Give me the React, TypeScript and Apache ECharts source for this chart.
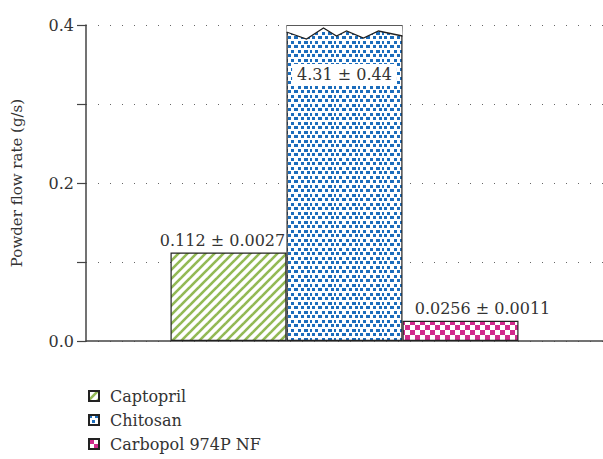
import React, { useEffect, useRef } from "react";
import * as echarts from "echarts";

const categories = [""];
const seriesNames = ["Captopril", "Chitosan", "Carbopol 974P NF"];
const seriesValues = [0.112, 0.4, 0.0256];
const seriesLabels = ["0.112 ± 0.0027", "4.31 ± 0.44", "0.0256 ± 0.0011"];
const yTicks = [0, 0.1, 0.2, 0.3, 0.4];

const FONT = "DejaVu Serif";
const BAR_W = 116;

function makeTile(w: number, h: number, draw: (ctx: CanvasRenderingContext2D) => void) {
  const c = document.createElement("canvas");
  c.width = w;
  c.height = h;
  const ctx = c.getContext("2d")!;
  ctx.fillStyle = "#ffffff";
  ctx.fillRect(0, 0, w, h);
  draw(ctx);
  return { image: c.toDataURL(), repeat: "repeat", imageWidth: w, imageHeight: h } as any;
}

export default function App() {
  const ref = useRef<HTMLDivElement>(null);
  useEffect(() => {
    document.body.style.margin = "0";
    if (!ref.current) return;
    const chart = echarts.init(ref.current, null, { renderer: "svg" });

    const stripes = makeTile(9, 9, (ctx) => {
      ctx.strokeStyle = "#93b955";
      ctx.lineWidth = 2.6;
      for (const o of [-9, 0, 9]) {
        ctx.beginPath();
        ctx.moveTo(o - 1, 10);
        ctx.lineTo(o + 10, -1);
        ctx.stroke();
      }
    });
    const bluePat = makeTile(24, 9, (ctx) => {
      ctx.fillStyle = "#1c6dbc";
      const cells = [
        [0, 0, 3, 3], [6, 0, 4, 3], [13, 0, 3, 3], [19, 0, 3, 3],
        [3, 4.5, 3, 3], [10, 4.5, 3, 3], [16, 4.5, 4, 3], [22, 4.5, 2, 3],
      ];
      for (const [x, y, w, h] of cells) ctx.fillRect(x, Math.round(y), w, h);
    });
    const checker = makeTile(10, 10, (ctx) => {
      ctx.fillStyle = "#d02a8c";
      ctx.fillRect(0, 0, 5, 5);
      ctx.fillRect(5, 5, 5, 5);
    });
    const patterns = [stripes, bluePat, checker];

    const labelOpts = [
      { position: "top", distance: 4, offset: [-6, 0] },
      {
        position: "insideTop",
        distance: 0,
        offset: [0, 39],
        backgroundColor: "#ffffff",
        padding: [2, 5],
      },
      { position: "top", distance: 4, offset: [22, 0] },
    ];

    const series = seriesNames.map((name, i) => ({
      name,
      type: "bar",
      barWidth: BAR_W,
      barGap: "0%",
      data: [seriesValues[i]],
      itemStyle: { color: patterns[i], borderColor: "#222", borderWidth: 1.2 },
      label: {
        show: true,
        formatter: () => seriesLabels[i],
        color: "#333",
        fontFamily: FONT,
        fontSize: 16,
        ...labelOpts[i],
      },
      z: 2,
    }));

    chart.setOption({
      animation: false,
      backgroundColor: "#ffffff",
      grid: { left: 86, right: 0, top: 25, bottom: 118 },
      legend: {
        orient: "vertical",
        left: 88,
        top: 388,
        padding: 0,
        itemWidth: 10,
        itemHeight: 10,
        itemGap: 8,
        icon: "rect",
        textStyle: { fontFamily: FONT, fontSize: 16, color: "#333", padding: [0, 0, 0, 6] },
        data: seriesNames,
      },
      xAxis: {
        type: "category",
        data: categories,
        axisLine: { lineStyle: { color: "#444", width: 1.5 } },
        axisTick: { show: false },
        axisLabel: { show: false },
      },
      yAxis: {
        type: "value",
        min: yTicks[0],
        max: yTicks[yTicks.length - 1],
        interval: 0.1,
        name: "Powder flow rate (g/s)",
        nameLocation: "middle",
        nameGap: 62,
        nameTextStyle: { fontFamily: FONT, fontSize: 15, color: "#333" },
        axisLine: { show: true, lineStyle: { color: "#444", width: 1.5 } },
        axisTick: { show: true, length: 9, lineStyle: { color: "#444", width: 1.2 } },
        axisLabel: {
          fontFamily: FONT,
          fontSize: 16,
          color: "#333",
          margin: 12,
          formatter: (v: number) => (Math.round(v * 10) % 2 === 0 ? v.toFixed(1) : ""),
        },
        splitLine: { show: true, lineStyle: { color: "#666", type: [1, 11], width: 1.2 } },
      },
      series,
    });

    // broken-bar zigzag on Chitosan
    const top = chart.convertToPixel({ xAxisIndex: 0, yAxisIndex: 0 }, [0, seriesValues[1]]) as number[];
    const x0 = top[0] - BAR_W / 2;
    const y0 = top[1];
    const zz = [
      [0, 7], [20, 14], [37, 3], [50, 11], [60, 6], [77, 13], [92, 6], [BAR_W, 11],
    ];
    const pts = zz.map(([dx, dy]) => [x0 + dx, y0 + dy]);
    chart.setOption({
      graphic: [
        {
          type: "polygon",
          shape: { points: [[x0 + 0.6, y0 + 0.8], ...pts, [x0 + BAR_W - 0.6, y0 + 0.8]] },
          style: { fill: "#ffffff" },
          z: 100,
        },
        {
          type: "polyline",
          shape: { points: pts },
          style: { stroke: "#222", lineWidth: 1.3, fill: null },
          z: 101,
        },
      ],
    });

    return () => chart.dispose();
  }, []);
  return <div ref={ref} style={{ width: 603, height: 459 }} />;
}
